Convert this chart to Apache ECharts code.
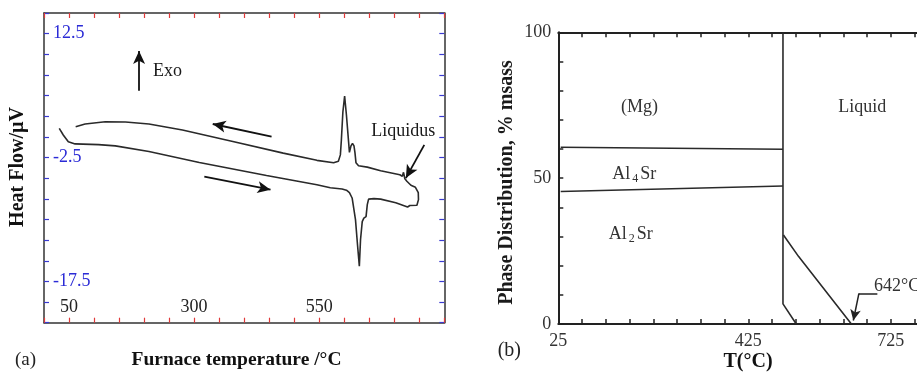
<!DOCTYPE html>
<html>
<head>
<meta charset="utf-8">
<script src="https://cdn.jsdelivr.net/npm/echarts@6/dist/echarts.min.js"></script>
<style>html,body{margin:0;padding:0;background:#fff}#c{width:917px;height:374px}</style>
</head>
<body>
<div id="c"></div>
<script>
const FONT = '"Liberation Serif","Times New Roman",Times,serif';

// ---------- Panel (a): DSC trace (heating -> max temp -> cooling), one continuous path ----------
const dscTemp = [30.5,38.5,48.6,62.1,109,142.6,209.7,310.4,444.7,545.4,572.2,595.7,604.4,610.4,615.8,622.5,626.5,630.2,632.6,636,639.2,643.6,646.1,648.7,659.4,672.8,703,726.6,731.2,745.3,748.4,748,742.3,733.3,725.2,721.2,718.5,716.1,711.1,672.8,646.1,628.6,623.5,621.5,619.5,616.5,613.5,610.4,607.4,604.4,600.8,597.3,594.3,592.3,588.3,578.8,545.4,478.1,377.4,276.7,209.7,162.8,122.5,82.2,63.3];
const dscHeat = [1.04,0.23,-0.58,-0.85,-0.94,-1.09,-1.78,-3.11,-4.67,-5.80,-6.16,-6.31,-6.46,-6.76,-7.40,-10.02,-13.03,-15.65,-12.43,-10.26,-9.84,-9.66,-8.21,-7.54,-7.48,-7.54,-7.97,-8.49,-8.31,-8.27,-7.60,-6.76,-6.10,-5.86,-5.37,-5.07,-4.29,-4.77,-4.59,-4.11,-3.66,-3.5,-3.14,-1.94,-1.09,-0.79,-1.09,-1.88,-1.70,2.65,4.94,3.01,-0.37,-2.18,-2.96,-3.14,-2.84,-1.97,-0.57,0.84,1.56,1.80,1.84,1.56,1.23];
const aXLabels = [50, 300, 550];
const aYLabels = [12.5, -2.5, -17.5];
// annotation arrows (data space): [from, to]
const aArrows = [
  [[190, 5.6], [190, 10.4]],
  [[454.8, 0.03], [337.2, 1.56]],
  [[320.4, -4.8], [452.7, -6.4]],
  [[760, -0.97], [723.2, -4.99]]
];
const aNotes = [
  {text: 'Exo', t: 217.7, v: 7.95},
  {text: 'Liquidus', t: 654, v: 0.63}
];

// ---------- Panel (b): phase distribution ----------
const mgBoundT = [30, 498];
const mgBoundP = [60.6, 59.9];
const al4BoundT = [30, 498];
const al4BoundP = [45.4, 47.3];
const solidT = [498, 498, 526];
const solidP = [100, 6.9, 0];
const liquidT = [499, 531, 642];
const liquidP = [30.5, 23.1, 0];
const bXLabels = [25, 425, 725];
const bYLabels = [0, 50, 100];
const bLeader = [[696.7, 10.5], [657.9, 10.5]];
const bArrow = [[657.9, 10.5], [646.1, 1.2]];
const bNotes = [
  {text: '(Mg)', t: 195.9, v: 74.2, align: 'center'},
  {text: 'Liquid', t: 665, v: 74.2, align: 'center'},
  {text: '{m|Al}{s|4}{m|Sr}', t: 184.7, v: 51.4, align: 'center'},
  {text: '{m|Al}{s|2}{m|Sr}', t: 177.7, v: 30.75, align: 'center'},
  {text: '642°C', t: 689.6, v: 13.0, align: 'left'}
];

const zip = (a, b) => a.map((x, i) => [x, b[i]]);
const near = (list, v) => list.some(l => Math.abs(l - v) < 1e-6);

const chart = echarts.init(document.getElementById('c'), null, {renderer: 'canvas'});

const frameA = {color: '#333', width: 1.5};
const frameB = {color: '#222', width: 2};
const lineSt = {color: '#2a2a2a', width: 1.6};

function arrowLines(list, size) {
  return list.map(seg => [
    {coord: seg[0], symbol: 'none'},
    {coord: seg[1], symbol: 'arrow', symbolSize: size}
  ]);
}

const option = {
  animation: false,
  backgroundColor: '#fff',
  textStyle: {fontFamily: FONT},
  grid: [
    {left: 44, right: 472.7, top: 13, bottom: 51.3, outerBoundsMode: 'none', containLabel: false},
    {left: 558.3, right: -21.3, top: 32.3, bottom: 50, outerBoundsMode: 'none', containLabel: false}
  ],
  xAxis: [
    {gridIndex: 0, type: 'value', min: 0, max: 800, interval: 50, position: 'bottom',
     axisLine: {onZero: false, lineStyle: frameA},
     axisTick: {inside: true, length: 5, lineStyle: {color: '#e03a3a', width: 1.2}},
     axisLabel: {inside: true, margin: 6, color: '#222', fontSize: 18, fontFamily: FONT,
       formatter: v => near(aXLabels, v) ? String(v) : ''},
     splitLine: {show: false}},
    {gridIndex: 0, type: 'value', min: 0, max: 800, interval: 50, position: 'top',
     axisLine: {onZero: false, lineStyle: frameA},
     axisTick: {inside: true, length: 5, lineStyle: {color: '#e03a3a', width: 1.2}},
     axisLabel: {show: false}, splitLine: {show: false}},
    {gridIndex: 1, type: 'value', min: 25, max: 825, interval: 50, position: 'bottom',
     axisLine: {onZero: false, lineStyle: frameB},
     axisTick: {inside: true, length: 5, lineStyle: {color: '#222', width: 1.5}},
     axisLabel: {margin: 8, color: '#333', fontSize: 18, fontFamily: FONT,
       formatter: v => near(bXLabels, v) ? String(v) : ''},
     splitLine: {show: false}},
    {gridIndex: 1, type: 'value', min: 25, max: 825, interval: 50, position: 'top',
     axisLine: {onZero: false, lineStyle: frameB},
     axisTick: {inside: true, length: 5, lineStyle: {color: '#222', width: 1.5}},
     axisLabel: {show: false}, splitLine: {show: false}}
  ],
  yAxis: [
    {gridIndex: 0, type: 'value', min: -22.5, max: 15, interval: 2.5, position: 'left',
     axisLine: {onZero: false, lineStyle: frameA},
     axisTick: {inside: true, length: 5, lineStyle: {color: '#3a3ad0', width: 1.2}},
     axisLabel: {inside: true, margin: 9, color: '#2b2bd6', fontSize: 18, fontFamily: FONT,
       formatter: v => near(aYLabels, v) ? String(v) : ''},
     splitLine: {show: false}},
    {gridIndex: 0, type: 'value', min: -22.5, max: 15, interval: 2.5, position: 'right',
     axisLine: {onZero: false, lineStyle: frameA},
     axisTick: {inside: true, length: 5, lineStyle: {color: '#3a3ad0', width: 1.2}},
     axisLabel: {show: false}, splitLine: {show: false}},
    {gridIndex: 1, type: 'value', min: 0, max: 100, interval: 10, position: 'left',
     axisLine: {onZero: false, lineStyle: frameB},
     axisTick: {inside: true, length: 5, lineStyle: {color: '#222', width: 1.5}},
     axisLabel: {margin: 7, color: '#333', fontSize: 18, fontFamily: FONT,
       formatter: v => near(bYLabels, v) ? String(v) : ''},
     splitLine: {show: false}}
  ],
  series: [
    {type: 'line', xAxisIndex: 0, yAxisIndex: 0, data: zip(dscTemp, dscHeat),
     symbol: 'none', lineStyle: lineSt, silent: true, z: 3,
     markLine: {silent: true, animation: false, label: {show: false},
       lineStyle: {type: 'solid', color: '#111', width: 1.8},
       emphasis: {disabled: true},
       data: arrowLines(aArrows, [9, 13])}},
    {type: 'line', xAxisIndex: 2, yAxisIndex: 2, data: zip(mgBoundT, mgBoundP),
     symbol: 'none', lineStyle: lineSt, silent: true},
    {type: 'line', xAxisIndex: 2, yAxisIndex: 2, data: zip(al4BoundT, al4BoundP),
     symbol: 'none', lineStyle: lineSt, silent: true},
    {type: 'line', xAxisIndex: 2, yAxisIndex: 2, data: zip(solidT, solidP),
     symbol: 'none', lineStyle: lineSt, silent: true},
    {type: 'line', xAxisIndex: 2, yAxisIndex: 2, data: zip(liquidT, liquidP),
     symbol: 'none', lineStyle: lineSt, silent: true,
     markLine: {silent: true, animation: false, label: {show: false},
       lineStyle: {type: 'solid', color: '#222', width: 1.5},
       emphasis: {disabled: true},
       data: [
         [{coord: bLeader[0], symbol: 'none'}, {coord: bLeader[1], symbol: 'none'}],
         [{coord: bArrow[0], symbol: 'none'}, {coord: bArrow[1], symbol: 'arrow', symbolSize: [8, 11]}]
       ]}}
  ]
};
chart.setOption(option);

const rich = {
  m: {fontFamily: FONT, fontSize: 18, color: '#333', lineHeight: 22, verticalAlign: 'middle'},
  s: {fontFamily: FONT, fontSize: 12, color: '#333', lineHeight: 12, verticalAlign: 'bottom', padding: [0, 2, 0, 2]}
};

const graphics = [];
aNotes.forEach(n => {
  const p = chart.convertToPixel({seriesIndex: 0}, [n.t, n.v]);
  graphics.push({type: 'text', x: p[0], y: p[1], silent: true,
    style: {text: n.text, fontFamily: FONT, fontSize: 18, fill: '#1a1a1a', textAlign: 'left', textVerticalAlign: 'middle'}});
});
bNotes.forEach(n => {
  const p = chart.convertToPixel({seriesIndex: 1}, [n.t, n.v]);
  graphics.push({type: 'text', x: p[0], y: p[1], silent: true,
    style: {text: n.text, rich: rich, fontFamily: FONT, fontSize: 18, fill: '#333', textAlign: n.align, textVerticalAlign: 'middle'}});
});
// axis titles and panel tags
graphics.push(
  {type: 'text', x: 15, y: 360, silent: true,
   style: {text: '(a)', fontFamily: FONT, fontSize: 19, fill: '#222', textAlign: 'left', textVerticalAlign: 'middle'}},
  {type: 'text', x: 236.5, y: 360, silent: true,
   style: {text: 'Furnace temperature /°C', fontFamily: FONT, fontSize: 19.5, fontWeight: 'bold', fill: '#111', textAlign: 'center', textVerticalAlign: 'middle'}},
  {type: 'text', x: 18, y: 167, rotation: Math.PI / 2, silent: true,
   style: {text: 'Heat Flow/µV', fontFamily: FONT, fontSize: 20, fontWeight: 'bold', fill: '#111', textAlign: 'center', textVerticalAlign: 'middle'}},
  {type: 'text', x: 497.7, y: 350.7, silent: true,
   style: {text: '(b)', fontFamily: FONT, fontSize: 20, fill: '#222', textAlign: 'left', textVerticalAlign: 'middle'}},
  {type: 'text', x: 748, y: 361.7, silent: true,
   style: {text: 'T(°C)', fontFamily: FONT, fontSize: 20, fontWeight: 'bold', fill: '#111', textAlign: 'center', textVerticalAlign: 'middle'}},
  {type: 'text', x: 506.7, y: 182.5, rotation: Math.PI / 2, silent: true,
   style: {text: 'Phase Distribution, % msass', fontFamily: FONT, fontSize: 20, fontWeight: 'bold', fill: '#1a1a1a', textAlign: 'center', textVerticalAlign: 'middle'}}
);
chart.setOption({graphic: graphics});
</script>
</body>
</html>
